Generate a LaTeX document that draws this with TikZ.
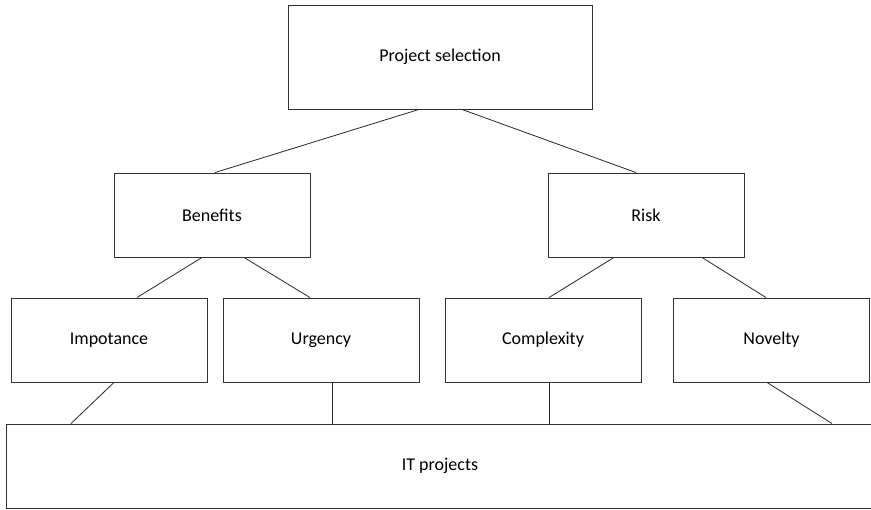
\documentclass[tikz,border=0pt]{standalone}
\usepackage{fontspec}
\setmainfont{Carlito}
\usepackage{tikz}
\usetikzlibrary{arrows.meta}

\begin{document}
\begin{tikzpicture}[x=1pt,y=-1pt,
    box/.style={draw=black!80,line width=0.9pt,rectangle,inner sep=0pt,minimum width=196pt,minimum height=84pt,font=\fontsize{18}{21}\selectfont},
    link/.style={draw=black!85,line width=0.8pt}]
%\tikzstyle{box}=[draw,rectangle,minimum width=5cm]
\useasboundingbox (0,0) rectangle (871,510);
\begin{scope}
    \node[box,minimum width=304pt,minimum height=104pt] (sel) at (440,57) {Project selection};
    \node[box] (ben) at (212,215) {Benefits};
    \node[box] (risk) at (646,215) {Risk};
    \node[box] (imp) at (109,340) {Impotance};
    \node[box] (urg) at (321,340) {Urgency};
    \node[box] (cpx) at (543,340) {Complexity};
    \node[box] (nov) at (771.5,340) {Novelty};
    \node[box,minimum width=868pt] (it) at (440,466) {IT projects};

    \path [link] ([xshift=-21pt]sel.south) edge ([xshift=3pt]ben.north);
    \path [link] ([xshift=22pt]sel.south) edge ([xshift=-10pt]risk.north);
    \path [link] ([xshift=-10pt]ben.south) edge ([xshift=28pt]imp.north);
    \path [link] ([xshift=32pt]ben.south) edge ([xshift=-11pt]urg.north);
    \path [link] ([xshift=-32pt]risk.south) edge ([xshift=6pt]cpx.north);
    \path [link] ([xshift=56pt]risk.south) edge ([xshift=-5.5pt]nov.north);
    \path [link] ([xshift=5pt]imp.south) edge ([xshift=-369pt]it.north);
    \path [link] ([xshift=11pt]urg.south) edge ([xshift=-108pt]it.north);
    \path [link] ([xshift=6pt]cpx.south) edge ([xshift=109pt]it.north);
    \path [link] ([xshift=-4.5pt]nov.south) edge ([xshift=392pt]it.north);
\end{scope}
\end{tikzpicture}
\end{document}
